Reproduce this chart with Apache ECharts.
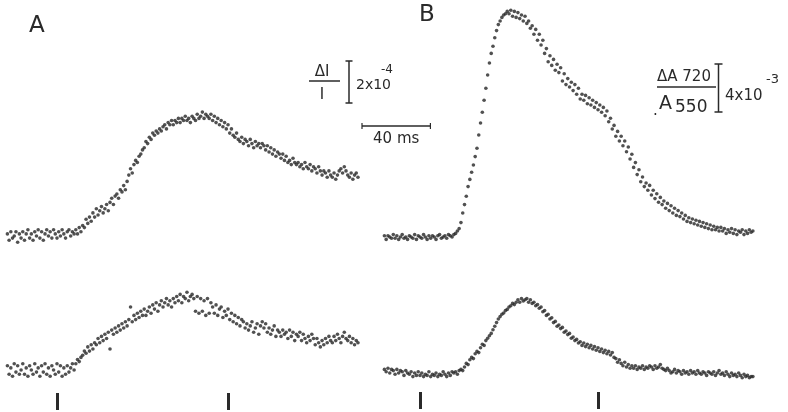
<!DOCTYPE html>
<html>
<head>
<meta charset="utf-8">
<script src="https://cdn.jsdelivr.net/npm/echarts@6/dist/echarts.min.js"></script>
<style>
html, body { margin: 0; padding: 0; background: #fff; }
#chart { width: 788px; height: 412px; }
</style>
</head>
<body>
<div id="chart"></div>
<script>
// one sample per ms, time in ms relative to the first stimulus tick
var startA = -29;
var startB = -20;
var stimulusTicks = [0, 100];

// panel A: dI/I, units of 1e-4
var upperA = [
  0.1,-0.2,0.2,-0.1,0.0,0.2,-0.3,0.1,-0.1,0.2,
  -0.2,0.1,0.3,-0.1,0.1,-0.2,0.2,0.0,0.3,-0.1,
  0.2,-0.2,0.1,0.3,0.0,0.2,-0.1,0.3,0.1,-0.1,
  0.2,0.0,0.3,0.1,-0.1,0.2,0.3,0.0,0.2,0.1,
  0.3,0.1,0.4,0.2,0.5,0.4,0.8,0.6,0.9,0.7,
  1.1,0.9,1.3,1.0,1.2,1.4,1.1,1.3,1.5,1.2,
  1.6,1.8,1.5,1.9,2.0,1.8,2.2,2.1,2.4,2.2,
  2.6,2.9,3.2,3.0,3.4,3.6,3.5,3.8,3.9,4.1,
  4.2,4.5,4.4,4.7,4.6,4.9,4.8,5.0,4.9,5.1,
  5.0,5.2,5.3,5.1,5.4,5.3,5.5,5.3,5.5,5.4,
  5.6,5.4,5.6,5.5,5.7,5.5,5.6,5.4,5.7,5.6,
  5.5,5.8,5.6,5.7,5.9,5.6,5.8,5.7,5.6,5.8,
  5.5,5.7,5.4,5.6,5.3,5.5,5.2,5.4,5.1,5.3,
  4.9,5.1,4.8,4.7,4.9,4.6,4.5,4.7,4.4,4.6,
  4.5,4.3,4.6,4.4,4.2,4.5,4.3,4.4,4.2,4.4,
  4.3,4.1,4.3,4.0,4.2,3.9,4.1,3.8,4.0,3.9,
  3.7,3.9,3.6,3.8,3.5,3.6,3.4,3.7,3.5,3.4,
  3.5,3.3,3.4,3.2,3.5,3.3,3.2,3.4,3.1,3.3,
  3.2,3.0,3.3,3.1,2.9,3.1,3.0,2.8,3.1,2.9,
  2.8,3.0,2.7,2.9,3.1,3.2,3.0,3.3,3.1,2.9,
  2.8,3.0,2.7,2.9,3.0,2.8
];
var lowerA = [
  0.2,-0.2,0.1,-0.3,0.3,-0.1,0.2,-0.2,0.0,0.3,
  -0.2,0.1,-0.3,0.2,0.0,-0.2,0.3,-0.1,0.1,-0.3,
  0.2,-0.1,0.3,-0.2,0.1,-0.3,0.2,0.0,-0.2,0.3,
  -0.1,0.2,-0.3,0.1,-0.2,0.2,-0.1,0.1,0.3,0.0,
  0.3,0.5,0.4,0.6,0.7,0.9,0.8,1.1,0.9,1.2,
  1.0,1.3,1.2,1.5,1.3,1.6,1.4,1.7,1.5,1.8,
  1.0,1.9,1.7,2.0,1.8,2.1,1.9,2.2,2.0,2.3,
  2.1,2.4,3.0,2.3,2.6,2.4,2.7,2.5,2.8,2.6,
  2.9,2.6,2.8,3.0,2.7,3.1,2.9,3.2,2.8,3.1,
  3.3,3.0,3.2,3.4,3.1,3.3,3.0,3.4,3.2,3.5,
  3.3,3.6,3.2,3.5,3.4,3.7,3.3,3.5,3.6,3.4,
  2.8,3.5,2.7,3.4,2.8,3.3,2.6,3.4,2.7,3.2,
  3.0,2.7,3.1,2.6,2.9,3.0,2.5,2.8,2.6,2.9,
  2.4,2.7,2.3,2.6,2.2,2.5,2.1,2.4,2.3,2.0,
  2.2,1.9,2.1,2.3,1.8,2.0,2.2,1.7,2.1,2.3,
  2.0,2.2,1.8,2.0,1.7,1.9,2.1,1.6,1.9,1.8,
  1.6,1.9,1.7,1.8,1.5,1.9,1.6,1.8,1.4,1.7,
  1.6,1.8,1.4,1.7,1.5,1.3,1.6,1.4,1.7,1.5,
  1.2,1.5,1.3,1.1,1.4,1.2,1.5,1.3,1.6,1.4,
  1.3,1.6,1.4,1.7,1.5,1.3,1.6,1.8,1.5,1.4,
  1.6,1.3,1.5,1.2,1.4,1.3
];

// panel B: dA720/A550, units of 1e-3
var upperB = [
  0.1,-0.2,0.1,0.0,-0.1,0.2,-0.1,0.1,-0.2,0.0,
  0.2,-0.1,0.0,-0.2,0.1,0.0,-0.1,0.2,-0.2,0.1,
  0.0,-0.1,0.2,0.0,-0.2,0.1,-0.1,0.1,0.0,-0.2,
  0.1,0.2,-0.1,0.0,0.1,-0.1,0.2,0.1,0.0,0.2,
  0.3,0.5,0.7,1.2,2.0,2.7,3.4,4.2,4.8,5.4,
  6.0,6.7,7.4,8.5,9.5,10.4,11.4,12.4,13.5,14.5,
  15.3,15.9,16.6,17.2,17.7,18.0,18.3,18.5,18.6,18.8,
  18.6,18.9,18.4,18.8,18.3,18.7,18.2,18.5,18.0,18.4,
  17.8,18.0,17.4,17.6,16.9,17.3,16.4,16.9,16.0,16.4,
  15.3,15.7,14.6,15.1,14.3,14.8,13.9,14.4,13.7,14.1,
  13.0,13.6,12.7,13.2,12.5,12.9,12.2,12.7,11.9,12.4,
  11.5,11.9,11.4,11.8,11.1,11.6,11.0,11.4,10.8,11.2,
  10.6,11.0,10.4,10.8,10.1,10.5,9.6,9.9,9.0,9.3,
  8.4,8.8,8.0,8.4,7.6,8.0,7.1,7.5,6.5,6.9,
  5.8,6.2,5.2,5.6,4.6,5.0,4.2,4.5,3.9,4.3,
  3.5,3.9,3.2,3.6,2.9,3.3,2.7,3.0,2.4,2.8,
  2.2,2.6,2.0,2.4,1.8,2.2,1.7,2.0,1.5,1.8,
  1.3,1.6,1.2,1.5,1.1,1.4,1.0,1.3,0.9,1.2,
  0.8,1.1,0.7,1.0,0.6,0.9,0.6,0.8,0.5,0.8,
  0.5,0.7,0.3,0.6,0.4,0.7,0.3,0.6,0.2,0.5,
  0.4,0.6,0.2,0.5,0.3,0.6,0.4,0.5
];
var lowerB = [
  0.3,0.1,0.4,0.0,0.3,0.2,-0.1,0.3,0.0,0.2,
  0.1,-0.2,0.2,0.0,-0.1,0.1,-0.3,0.0,-0.2,0.1,
  -0.2,0.0,-0.3,-0.1,-0.2,0.1,-0.3,-0.1,-0.2,0.0,
  -0.3,-0.1,-0.2,0.1,-0.1,-0.3,0.0,-0.2,0.1,0.0,
  0.1,-0.1,0.2,0.3,0.2,0.5,0.8,0.7,1.1,1.3,
  1.2,1.6,1.8,1.7,2.1,2.4,2.3,2.7,2.9,3.1,
  3.3,3.6,3.9,4.2,4.5,4.7,4.9,5.0,5.2,5.3,
  5.5,5.6,5.8,5.7,5.9,6.1,5.9,6.2,6.0,6.1,
  6.2,5.9,6.1,5.8,5.9,5.6,5.7,5.4,5.5,5.1,
  5.2,4.8,4.9,4.5,4.6,4.2,4.3,3.9,4.0,3.7,
  3.8,3.4,3.5,3.2,3.3,2.9,3.0,2.7,2.8,2.5,
  2.6,2.3,2.5,2.2,2.4,2.1,2.3,2.0,2.2,1.9,
  2.1,1.8,2.0,1.7,1.9,1.6,1.8,1.5,1.7,1.3,
  1.2,0.9,1.1,0.8,0.6,0.9,0.5,0.7,0.4,0.6,
  0.4,0.6,0.3,0.5,0.4,0.6,0.3,0.5,0.4,0.6,
  0.5,0.3,0.6,0.4,0.5,0.7,0.4,0.3,0.2,0.4,
  0.2,0.0,0.1,0.3,0.0,0.2,0.1,-0.1,0.2,0.0,
  0.1,-0.1,0.2,0.0,0.1,-0.1,0.2,0.0,-0.1,0.1,
  0.0,-0.2,0.1,0.0,-0.1,0.1,-0.2,0.0,0.2,-0.1,
  0.0,-0.2,0.1,-0.1,-0.3,0.0,-0.2,-0.1,-0.3,0.0,
  -0.2,-0.4,-0.1,-0.3,-0.2,-0.4,-0.3,-0.3
];

// calibration bars
var timeBarMs = 40;
var calA = 2;   // 2x10^-4
var calB = 4;   // 4x10^-3

var ink = '#2a2a2a';
var font = 'DejaVu Sans';

function toPoints(values, start) {
  var pts = [];
  for (var i = 0; i < values.length; i++) {
    pts.push([start + i, values[i]]);
  }
  return pts;
}

function hiddenX(grid, min, max, ticks) {
  var ax = {
    type: 'value', gridIndex: grid, min: min, max: max,
    axisLine: { show: false, onZero: false },
    axisLabel: { show: false },
    splitLine: { show: false },
    axisTick: { show: false }
  };
  if (ticks) {
    ax.axisTick = {
      show: true, inside: true, length: 17,
      customValues: stimulusTicks,
      lineStyle: { color: ink, width: 3 }
    };
  }
  return ax;
}

function hiddenY(grid, min, max) {
  return { type: 'value', gridIndex: grid, min: min, max: max, show: false };
}

function dots(values, start, idx) {
  return {
    type: 'scatter',
    xAxisIndex: idx, yAxisIndex: idx,
    data: toPoints(values, start),
    symbolSize: 3.6,
    itemStyle: { color: '#262626' },
    silent: true
  };
}

var chart = echarts.init(document.getElementById('chart'));
chart.setOption({
  backgroundColor: '#fff',
  animation: false,
  grid: [
    { left: 7.4, width: 352.3, top: 99.5, height: 168 },
    { left: 7.4, width: 352.3, top: 275.5, height: 134.4 },
    { left: 384.4, width: 368.5, top: 3, height: 246 },
    { left: 384.4, width: 368.5, top: 289, height: 120 }
  ],
  xAxis: [
    hiddenX(0, -29, 177, false),
    hiddenX(1, -29, 177, true),
    hiddenX(2, -20, 187, false),
    hiddenX(3, -20, 187, true)
  ],
  yAxis: [
    hiddenY(0, -1.5, 6.5),
    hiddenY(1, -1.9, 4.5),
    hiddenY(2, -1, 19.5),
    hiddenY(3, -3, 7)
  ],
  series: [
    dots(upperA, startA, 0),
    dots(lowerA, startA, 1),
    dots(upperB, startB, 2),
    dots(lowerB, startB, 3)
  ]
});

// scale bar lengths from the axes
var msLen = chart.convertToPixel({ xAxisIndex: 0 }, timeBarMs) - chart.convertToPixel({ xAxisIndex: 0 }, 0);
var calALen = chart.convertToPixel({ yAxisIndex: 0 }, 0) - chart.convertToPixel({ yAxisIndex: 0 }, calA);
var calBLen = chart.convertToPixel({ yAxisIndex: 2 }, 0) - chart.convertToPixel({ yAxisIndex: 2 }, calB);

function seg(x1, y1, x2, y2, w) {
  return { type: 'line', shape: { x1: x1, y1: y1, x2: x2, y2: y2 },
           style: { stroke: ink, lineWidth: w || 1.5 }, silent: true };
}
function txt(s, x, y, size, align) {
  return { type: 'text', x: x, y: y,
           style: { text: s, fill: ink, font: size + 'px "' + font + '"',
                    textAlign: align || 'left', textVerticalAlign: 'middle' },
           silent: true };
}

var bx = 349, by = 61;
var cx = 718.5, cy = 64;
var tx = 362, ty = 126;

chart.setOption({
  graphic: [
    txt('A', 29, 26, 23),
    txt('B', 419, 15, 23),
    // dI/I calibration
    txt('\u0394I', 322, 72, 15, 'center'),
    seg(309, 81, 340, 81),
    txt('I', 322, 95, 15, 'center'),
    seg(bx, by, bx, by + calALen),
    seg(bx - 3.5, by, bx + 3.5, by),
    seg(bx - 3.5, by + calALen, bx + 3.5, by + calALen),
    txt('2x10', 356, 85, 14),
    txt('-4', 381, 70, 12),
    // time bar
    seg(tx, ty, tx + msLen, ty),
    seg(tx, ty - 3, tx, ty + 3, 1.2),
    seg(tx + msLen, ty - 3, tx + msLen, ty + 3, 1.2),
    txt('40 ms', tx + msLen / 2, 139, 15, 'center'),
    // dA calibration
    txt('\u0394A 720', 657, 77, 15),
    seg(657, 87, 716, 87),
    txt('.', 653, 111, 15),
    txt('A', 659, 104, 19),
    txt('550', 675, 108, 17),
    seg(cx, cy, cx, cy + calBLen),
    seg(cx - 4, cy, cx + 4, cy),
    seg(cx - 4, cy + calBLen, cx + 4, cy + calBLen),
    txt('4x10', 725, 96, 15),
    txt('-3', 766, 80, 13)
  ]
});
</script>
</body>
</html>
